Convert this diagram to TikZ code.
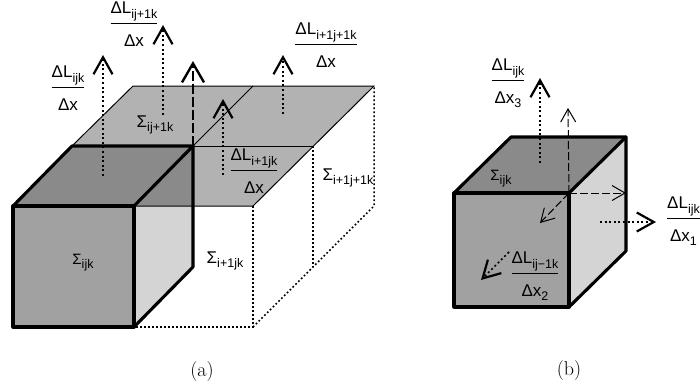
\documentclass[tikz,border=0pt]{standalone}
\usepackage{fontspec}
\newfontfamily\labelfont{Liberation Sans}
\usepackage{tikz}
\usetikzlibrary{arrows.meta}
\setlength{\arrayrulewidth}{0.9pt}
\newcommand{\subtext}[1]{\raisebox{-0.28em}{\fontsize{12.5}{14}\selectfont #1}}
\newcommand{\fluxfrac}[2]{\begin{tabular}{@{}c@{}}ΔL\subtext{#1}\\[3.5pt]\hline\rule{0pt}{22pt}Δx\subtext{#2}\end{tabular}}
\newcommand{\cellsum}[1]{Σ\subtext{#1}}
\tikzset{
  fluxlabel/.style={font=\fontsize{17}{20}\selectfont\labelfont, inner sep=0pt},
  celllabel/.style={font=\fontsize{17}{19}\selectfont\labelfont, inner sep=0pt},
  caption/.style={font=\fontsize{20}{23}\selectfont, inner sep=0pt},
  edgebold/.style={line width=3.1pt, line join=round, line cap=round},
  edgethin/.style={line width=1pt},
  edgedot/.style={line width=1.5pt, dash pattern=on 1.7pt off 2.3pt},
  fluxdot/.style={line width=1.7pt, dash pattern=on 2pt off 2.6pt, -{Straight Barb[length=17pt,width=19pt,line width=2.2pt]}},
  fluxdash/.style={line width=2pt, dash pattern=on 10pt off 3pt, -{Straight Barb[length=19pt,width=22pt,line width=2.4pt]}},
  normal/.style={line width=1pt, dash pattern=on 8pt off 3pt, -{Straight Barb[length=13pt,width=15pt,line width=1pt]}}
}
\definecolor{planegray}{gray}{0.70}
\definecolor{frontgray}{gray}{0.63}
\definecolor{topgray}{gray}{0.54}
\definecolor{sidegray}{gray}{0.83}
\begin{document}
\begin{tikzpicture}[x=1pt,y=-1pt]
\useasboundingbox (0,0) rectangle (700,391);
% Vertici (a)
\coordinate (af) at (13,206); \coordinate (ag) at (134,206);
\coordinate (ah) at (134,327); \coordinate (ae) at (13,327);
\coordinate (ab) at (72,146); \coordinate (ac) at (193,146);
\coordinate (ad) at (193,267); \coordinate (am) at (193,206);
\coordinate (pa) at (133,86); \coordinate (pb) at (253,86);
\coordinate (pc) at (374,86); \coordinate (pd) at (313,146);
\coordinate (pe) at (253,206); \coordinate (pf) at (253,327);
\coordinate (pg) at (313,267); \coordinate (ph) at (374,206);
% Piano e facce (a)
\fill[planegray] (pa) -- (pc) -- (pe) -- (ag) -- (af) -- cycle;
\fill[topgray] (ab) -- (ac) -- (ad) -- (am) -- (ag) -- (af) -- cycle;
\fill[sidegray] (ag) -- (am) -- (ad) -- (ah) -- cycle;
\fill[frontgray] (af) rectangle (ah);
% Linee sottili e punteggiate
\draw[edgethin] (ab) -- (pa) -- (pc) -- (pe) -- (ag);
\draw[edgethin] (ac) -- (pb);
\draw[edgethin] (ac) -- (pd);
\draw[edgedot] (pe) -- (pf) -- (ah);
\draw[edgedot] (pf) -- (pg) -- (ph) -- (pc);
\draw[edgedot] (pd) -- (pg);
% Cubo (a)
\draw[edgebold] (af) rectangle (ah);
\draw[edgebold] (af) -- (ab) -- (ac) -- (ag);
\draw[edgebold] (ac) -- (ad) -- (ah);
% Frecce (a)
\coordinate (f1a) at (103,176); \coordinate (f1b) at (103,55);
\coordinate (f2a) at (163,115); \coordinate (f2b) at (163,25);
\coordinate (f3b) at (193,61);
\coordinate (f4a) at (223,175); \coordinate (f4b) at (223,99);
\coordinate (f5a) at (283,114); \coordinate (f5b) at (283,55);
\draw[fluxdot] (f1a) -- (f1b);
\draw[fluxdot] (f2a) -- (f2b);
\draw[fluxdash] (ac) -- (f3b);
\draw[fluxdot] (f4a) -- (f4b);
\draw[fluxdot] (f5a) -- (f5b);
% Etichette (a)
\node[fluxlabel] (fluxa) at (68,90) {\fluxfrac{ijk}{}};
\node[fluxlabel] (fluxb) at (134,26) {\fluxfrac{ij+1k}{}};
\node[fluxlabel] (fluxc) at (254,173) {\fluxfrac{i+1jk}{}};
\node[fluxlabel] (fluxd) at (326,47) {\fluxfrac{i+1j+1k}{}};
\node[celllabel] (sumb) at (155,125) {\cellsum{ij+1k}};
\node[celllabel, font=\fontsize{15}{17}\selectfont\labelfont] (suma) at (83,263) {\cellsum{ijk}};
\node[celllabel] (sumc) at (225,261) {\cellsum{i+1jk}};
\node[celllabel] (sumd) at (348,178) {\cellsum{i+1j+1k}};
\node[caption] (capa) at (202,372) {(a)};
% Vertici (b)
\coordinate (bf) at (454,193); \coordinate (bg) at (569,193);
\coordinate (bh) at (569,307); \coordinate (be) at (454,307);
\coordinate (bb) at (511,137); \coordinate (bc) at (626,137);
\coordinate (bd) at (626,251);
% Cubo (b)
\fill[topgray] (bf) -- (bb) -- (bc) -- (bg) -- cycle;
\fill[sidegray] (bg) -- (bc) -- (bd) -- (bh) -- cycle;
\fill[frontgray] (bf) rectangle (bh);
\draw[edgebold] (bf) rectangle (bh);
\draw[edgebold] (bf) -- (bb) -- (bc) -- (bg);
\draw[edgebold] (bc) -- (bd) -- (bh);
% Normali e flussi (b)
\coordinate (nz) at (568,108); \coordinate (nx) at (626,193); \coordinate (ny) at (540,223);
\coordinate (g1a) at (540,163); \coordinate (g1b) at (540,78);
\coordinate (g2a) at (600,222); \coordinate (g2b) at (656,222);
\coordinate (g3a) at (509,252); \coordinate (g3b) at (481,280);
\draw[normal] (bg) -- (nz);
\draw[normal] (bg) -- (nx);
\draw[normal] (bg) -- (ny);
\draw[fluxdot] (g1a) -- (g1b);
\draw[fluxdot] (g2a) -- (g2b);
\draw[fluxdot] (g3a) -- (g3b);
% Etichette (b)
\node[fluxlabel] (fluxe) at (508,83) {\fluxfrac{ijk}{3}};
\node[fluxlabel, anchor=west] (fluxf) at (667,221) {\fluxfrac{ijk}{1}};
\node[fluxlabel] (fluxg) at (535,276) {\fluxfrac{ij{\textminus}1k}{2}};
\node[celllabel, font=\fontsize{15}{17}\selectfont\labelfont] (sume) at (501,179) {\cellsum{ijk}};
\node[caption] (capb) at (569,371) {(b)};
\end{tikzpicture}
\end{document}
